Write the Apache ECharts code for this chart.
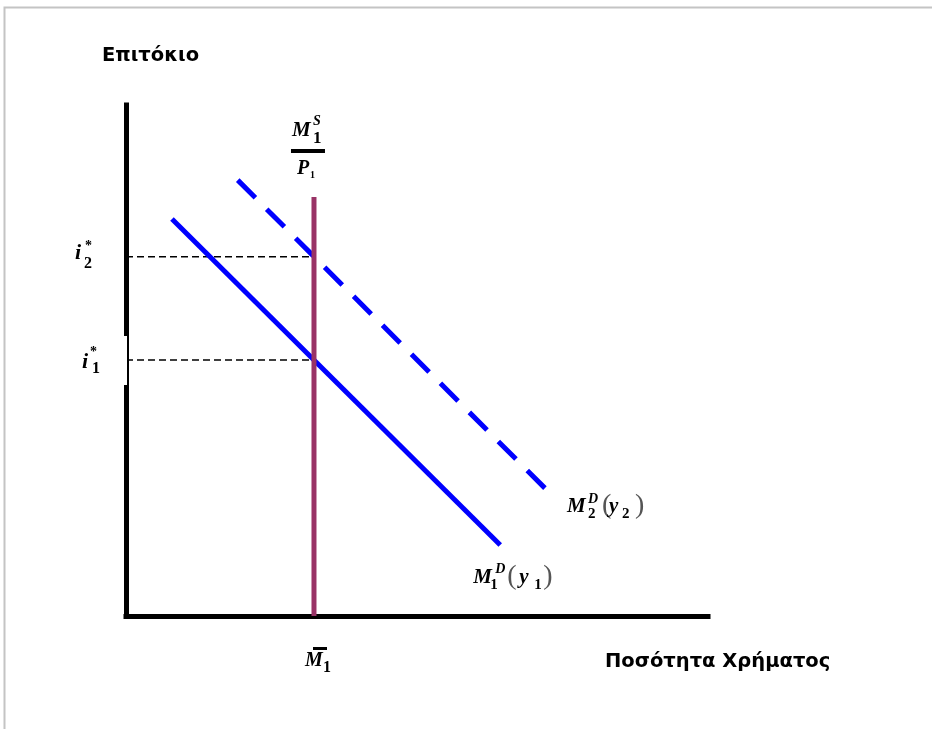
<!DOCTYPE html>
<html>
<head>
<meta charset="utf-8">
<script src="https://cdn.jsdelivr.net/npm/echarts@6/dist/echarts.min.js"></script>
<style>
  html, body { margin: 0; padding: 0; background: #fff; }
  #chart { width: 932px; height: 729px; }
</style>
</head>
<body>
<div id="chart"></div>
<script>
// Money market: real money supply vs. money demand at two income levels
const moneySupply = 32.3;          // M̄1 / P1 on the quantity axis
const supplyTop = 82;              // top of the vertical supply line
const rateLow = 50.1;              // i1*
const rateHigh = 70.3;             // i2*
const demandY1 = [[7.9, 77.7], [64.3, 13.9]];   // M1^D(y1)
const demandY2 = [[19.2, 85.3], [72.0, 25.0]];  // M2^D(y2)
const yAxisTitle = 'Επιτόκιο';
const xAxisTitle = 'Ποσότητα Χρήματος';

const chart = echarts.init(document.getElementById('chart'), null, { renderer: 'canvas' });

const axisCommon = {
  type: 'value', min: 0, max: 100,
  axisLine: { show: true, onZero: false, lineStyle: { color: '#000', width: 5, cap: 'square' } },
  axisTick: { show: false }, axisLabel: { show: false }, splitLine: { show: false }
};

chart.setOption({
  animation: false,
  backgroundColor: '#fff',
  grid: { left: 126, top: 105, width: 582, height: 511 },
  xAxis: axisCommon,
  yAxis: axisCommon,
  series: [
    {
      type: 'line', silent: true, symbol: 'none', z: 3,
      data: [[0, rateHigh], [moneySupply, rateHigh]],
      lineStyle: { color: '#000', width: 1.5, type: [7, 4] }
    },
    {
      type: 'line', silent: true, symbol: 'none', z: 3,
      data: [[0, rateLow], [moneySupply, rateLow]],
      lineStyle: { color: '#000', width: 1.5, type: [7, 4] }
    },
    {
      type: 'line', silent: true, symbol: 'none', z: 4,
      data: demandY1,
      lineStyle: { color: '#0000ff', width: 5 }
    },
    {
      type: 'line', silent: true, symbol: 'none', z: 4,
      data: demandY2,
      lineStyle: { color: '#0000ff', width: 5, type: [25, 16], cap: 'butt' }
    },
    {
      type: 'line', silent: true, symbol: 'none', z: 5,
      data: [[moneySupply, 0], [moneySupply, supplyTop]],
      lineStyle: { color: '#993366', width: 5 }
    }
  ]
});

const px = p => chart.convertToPixel({ gridIndex: 0 }, p);

// one glyph placed relative to an anchor point
function t(anchor, dx, dy, text, size, opt) {
  opt = opt || {};
  return {
    type: 'text', z: 20,
    x: anchor[0] + dx, y: anchor[1] + dy,
    style: {
      text: text,
      fontFamily: opt.family || '"Liberation Serif", "DejaVu Serif", serif',
      fontStyle: opt.upright ? 'normal' : 'italic',
      fontWeight: opt.weight || 'bold',
      fontSize: size,
      fill: opt.color || '#000',
      align: 'left', verticalAlign: 'middle'
    }
  };
}
function bar(anchor, dx, dy, w, h) {
  return { type: 'rect', z: 20, shape: { x: anchor[0] + dx, y: anchor[1] + dy, width: w, height: h }, style: { fill: '#000' } };
}

const A = px([moneySupply, supplyTop]);
const B = px([moneySupply, 0]);
const C = px([0, rateHigh]);
const D = px([0, rateLow]);
const E = px(demandY2[1]);
const F = px(demandY1[1]);

const up = { upright: true };
const paren = { upright: true, weight: 'normal', color: '#555' };
const titleFont = '"DejaVu Sans", Verdana, sans-serif';

const graphics = [
  // frame
  { type: 'polyline', z: 30, shape: { points: [[4.5, 729], [4.5, 7.5], [932, 7.5]] }, style: { stroke: '#c4c4c4', lineWidth: 2, fill: null } },
  // axis titles
  { type: 'text', z: 20, x: 102, y: 56, style: { text: yAxisTitle, fontFamily: titleFont, fontWeight: 'bold', fontSize: 19.5, fill: '#000', align: 'left', verticalAlign: 'middle' } },
  { type: 'text', z: 20, x: 605, y: 662, style: { text: xAxisTitle, fontFamily: titleFont, fontWeight: 'bold', fontSize: 19.5, fill: '#000', align: 'left', verticalAlign: 'middle' } },

  // M1^S / P1
  t(A, -22, -66.5, 'M', 21),
  t(A, -1, -76, 'S', 14),
  t(A, -1, -58.5, '1', 17, up),
  bar(A, -23, -48, 34, 4),
  t(A, -17, -28, 'P', 20),
  t(A, -4, -22, '1', 10, up),

  // M̄1 under the quantity axis
  bar(B, -1, 31, 14, 3),
  t(B, -9, 44.5, 'M', 20),
  t(B, 9, 51.5, '1', 16, up),

  // i2*
  t(C, -51, -3, 'i', 22),
  t(C, -41, -10, '*', 14, up),
  t(C, -42, 7, '2', 16, up),

  // i1* (sits on a white tag that cuts into the axis)
  { type: 'rect', z: 15, shape: { x: D[0] - 66, y: D[1] - 24, width: 67, height: 49 }, style: { fill: '#fff' } },
  t(D, -44, 2.5, 'i', 22),
  t(D, -36, -8, '*', 14, up),
  t(D, -34, 8.5, '1', 16, up),

  // M2^D(y2)
  t(E, 22, 18.5, 'M', 21),
  t(E, 43, 11, 'D', 14),
  t(E, 43, 25.5, '2', 15, up),
  t(E, 57, 17.5, '(', 28, paren),
  t(E, 64, 18.5, 'y', 21),
  t(E, 77, 25.5, '2', 15, up),
  t(E, 90, 17.5, ')', 28, paren),

  // M1^D(y1)
  t(F, -27, 32.5, 'M', 21),
  t(F, -5, 24, 'D', 14),
  t(F, -10, 40, '1', 15, up),
  t(F, 7, 31.5, '(', 28, paren),
  t(F, 19, 32.5, 'y', 21),
  t(F, 34, 40, '1', 15, up),
  t(F, 43, 31.5, ')', 28, paren)
];

chart.setOption({ graphic: graphics });
</script>
</body>
</html>
